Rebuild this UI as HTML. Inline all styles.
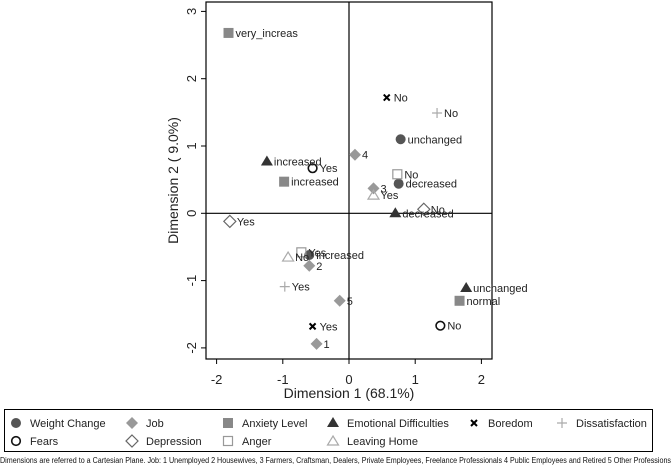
<!DOCTYPE html>
<html><head><meta charset="utf-8"><style>
body{margin:0;background:#fff;width:672px;height:470px;overflow:hidden;font-family:"Liberation Sans",Arial,sans-serif}
svg text{font-family:"Liberation Sans",Arial,sans-serif}
</style></head><body>
<svg id="chart" width="672" height="470" viewBox="0 0 672 470" xmlns="http://www.w3.org/2000/svg"></svg>
<script>
const seriesNames=["Weight Change","Fears","Job","Depression","Anxiety Level","Anger","Emotional Difficulties","Leaving Home","Boredom","Dissatisfaction"];
const wcLabels=["unchanged","decreased","increased"];const wcX=[0.78,0.75,-0.6];const wcY=[1.10,0.44,-0.62];
const feLabels=["Yes","No"];const feX=[-0.55,1.38];const feY=[0.67,-1.67];
const jobLabels=["4","3","2","5","1"];const jobX=[0.09,0.37,-0.6,-0.14,-0.49];const jobY=[0.87,0.37,-0.78,-1.3,-1.94];
const deLabels=["Yes","No"];const deX=[-1.8,1.13];const deY=[-0.12,0.06];
const anxLabels=["very_increas","increased","normal"];const anxX=[-1.82,-0.98,1.67];const anxY=[2.68,0.47,-1.3];
const angLabels=["No","Yes"];const angX=[0.73,-0.72];const angY=[0.58,-0.58];
const emLabels=["increased","decreased","unchanged"];const emX=[-1.24,0.7,1.77];const emY=[0.77,0.0,-1.11];
const lhLabels=["Yes","No"];const lhX=[0.37,-0.92];const lhY=[0.27,-0.65];
const boLabels=["No","Yes"];const boX=[0.57,-0.55];const boY=[1.72,-1.68];
const diLabels=["No","Yes"];const diX=[1.33,-0.97];const diY=[1.49,-1.09];
const xTicks=[-2,-1,0,1,2];const yTicks=[-2,-1,0,1,2,3];

const svg=document.getElementById('chart');const NS="http://www.w3.org/2000/svg";
function X(v){return 349+v*66.2;}
function Y(v){return 213.3-v*67.3;}
function mk(t,a,p){const e=document.createElementNS(NS,t);for(const k in a)e.setAttribute(k,a[k]);(p||svg).appendChild(e);return e;}
const L=206,R=492,T=2,B=359;
mk('rect',{x:L,y:T,width:R-L,height:B-T,fill:'none',stroke:'#000','stroke-width':1.2});
const xl=mk('line',{x1:L,x2:R,y1:Y(0),y2:Y(0),stroke:'#000','stroke-width':1.2});

const yl=mk('line',{x1:X(0),x2:X(0),y1:T,y2:B,stroke:'#000','stroke-width':1.2});

xTicks.forEach(v=>{mk('line',{x1:X(v),x2:X(v),y1:B,y2:B+5,stroke:'#000'});
 const t=mk('text',{x:X(v),y:B+25,'font-size':13,'text-anchor':'middle',fill:'#222'});t.textContent=v;
 });
yTicks.forEach(v=>{mk('line',{x1:L-5,x2:L,y1:Y(v),y2:Y(v),stroke:'#000'});
 const t=mk('text',{x:0,y:0,'font-size':13,'text-anchor':'middle',fill:'#222',transform:`translate(${L-10},${Y(v)}) rotate(-90)`});t.textContent=v;
 });
let t=mk('text',{x:349,y:398,'font-size':14,'text-anchor':'middle',fill:'#222'});t.textContent='Dimension 1 (68.1%)';

t=mk('text',{x:0,y:0,'font-size':14,'text-anchor':'middle',fill:'#222',transform:`translate(178,${(T+B)/2}) rotate(-90)`});t.textContent='Dimension 2 ( 9.0%)';


function marker(kind,x,y,g){
 const s=5;
 if(kind==='wc')return mk('circle',{cx:x,cy:y,r:5,fill:'#555'},g);
 if(kind==='fe')return mk('circle',{cx:x,cy:y,r:4.3,fill:'none',stroke:'#111','stroke-width':1.6},g);
 if(kind==='job')return mk('polygon',{points:`${x},${y-6} ${x+6},${y} ${x},${y+6} ${x-6},${y}`,fill:'#999'},g);
 if(kind==='de')return mk('polygon',{points:`${x},${y-6} ${x+6},${y} ${x},${y+6} ${x-6},${y}`,fill:'none',stroke:'#666','stroke-width':1.2},g);
 if(kind==='anx')return mk('rect',{x:x-s,y:y-s,width:2*s,height:2*s,fill:'#888'},g);
 if(kind==='ang')return mk('rect',{x:x-4.5,y:y-4.5,width:9,height:9,fill:'none',stroke:'#999','stroke-width':1.2},g);
 if(kind==='em')return mk('polygon',{points:`${x},${y-6} ${x+6},${y+4} ${x-6},${y+4}`,fill:'#333'},g);
 if(kind==='lh')return mk('polygon',{points:`${x},${y-5} ${x+5.5},${y+4} ${x-5.5},${y+4}`,fill:'none',stroke:'#aaa','stroke-width':1.2},g);
 if(kind==='bo'){const p=mk('g',{},g);mk('path',{d:`M${x-3},${y-3}L${x+3},${y+3}M${x+3},${y-3}L${x-3},${y+3}`,stroke:'#000','stroke-width':2},p);return p;}
 if(kind==='di'){const p=mk('g',{},g);mk('path',{d:`M${x-5},${y}L${x+5},${y}M${x},${y-5}L${x},${y+5}`,stroke:'#aaa','stroke-width':1.2},p);return p;}
}
const groups=[['wc',wcX,wcY,wcLabels,'weight-change'],['fe',feX,feY,feLabels,'fears'],['job',jobX,jobY,jobLabels,'job'],['de',deX,deY,deLabels,'depression'],['anx',anxX,anxY,anxLabels,'anxiety-level'],['ang',angX,angY,angLabels,'anger'],['em',emX,emY,emLabels,'emotional-difficulties'],['lh',lhX,lhY,lhLabels,'leaving-home'],['bo',boX,boY,boLabels,'boredom'],['di',diX,diY,diLabels,'dissatisfaction']];
groups.forEach(([k,xs,ys,ls,nm])=>{
 xs.forEach((xv,i)=>{
  const g=mk('g',{});
  
  
  marker(k,X(xv),Y(ys[i]),g);
  const tt=mk('text',{x:X(xv)+7,y:Y(ys[i])+4,'font-size':11,fill:'#222'},g);tt.textContent=ls[i];
 });
});
// legend
const lg=mk('g',{});
mk('rect',{x:4.5,y:409.5,width:648,height:42,fill:'none',stroke:'#000','stroke-width':1},lg);
const legKinds=['wc','job','anx','em','bo','di','fe','de','ang','lh'];
const legNames=["Weight Change","Job","Anxiety Level","Emotional Difficulties","Boredom","Dissatisfaction","Fears","Depression","Anger","Leaving Home"];
const colX=[16,132,228,333,474,562];
legKinds.forEach((k,i)=>{
 const row=i<6?0:1,col=i<6?i:i-6;
 const cx=colX[col],cy=row?441:423;
 const g=mk('g',{},lg);
 
 
 marker(k,cx,cy,g);
 const tt=mk('text',{x:cx+14,y:cy+4,'font-size':11,fill:'#222'},g);tt.textContent=legNames[i];
});
t=mk('text',{x:0,y:463,'font-size':8,textLength:671,lengthAdjust:'spacingAndGlyphs',fill:'#111'});
t.textContent='Dimensions are referred to a Cartesian Plane. Job: 1 Unemployed  2 Housewives, 3 Farmers, Craftsman, Dealers, Private Employees, Freelance Professionals 4 Public Employees and Retired 5 Other Professions';

</script>
</body></html>
